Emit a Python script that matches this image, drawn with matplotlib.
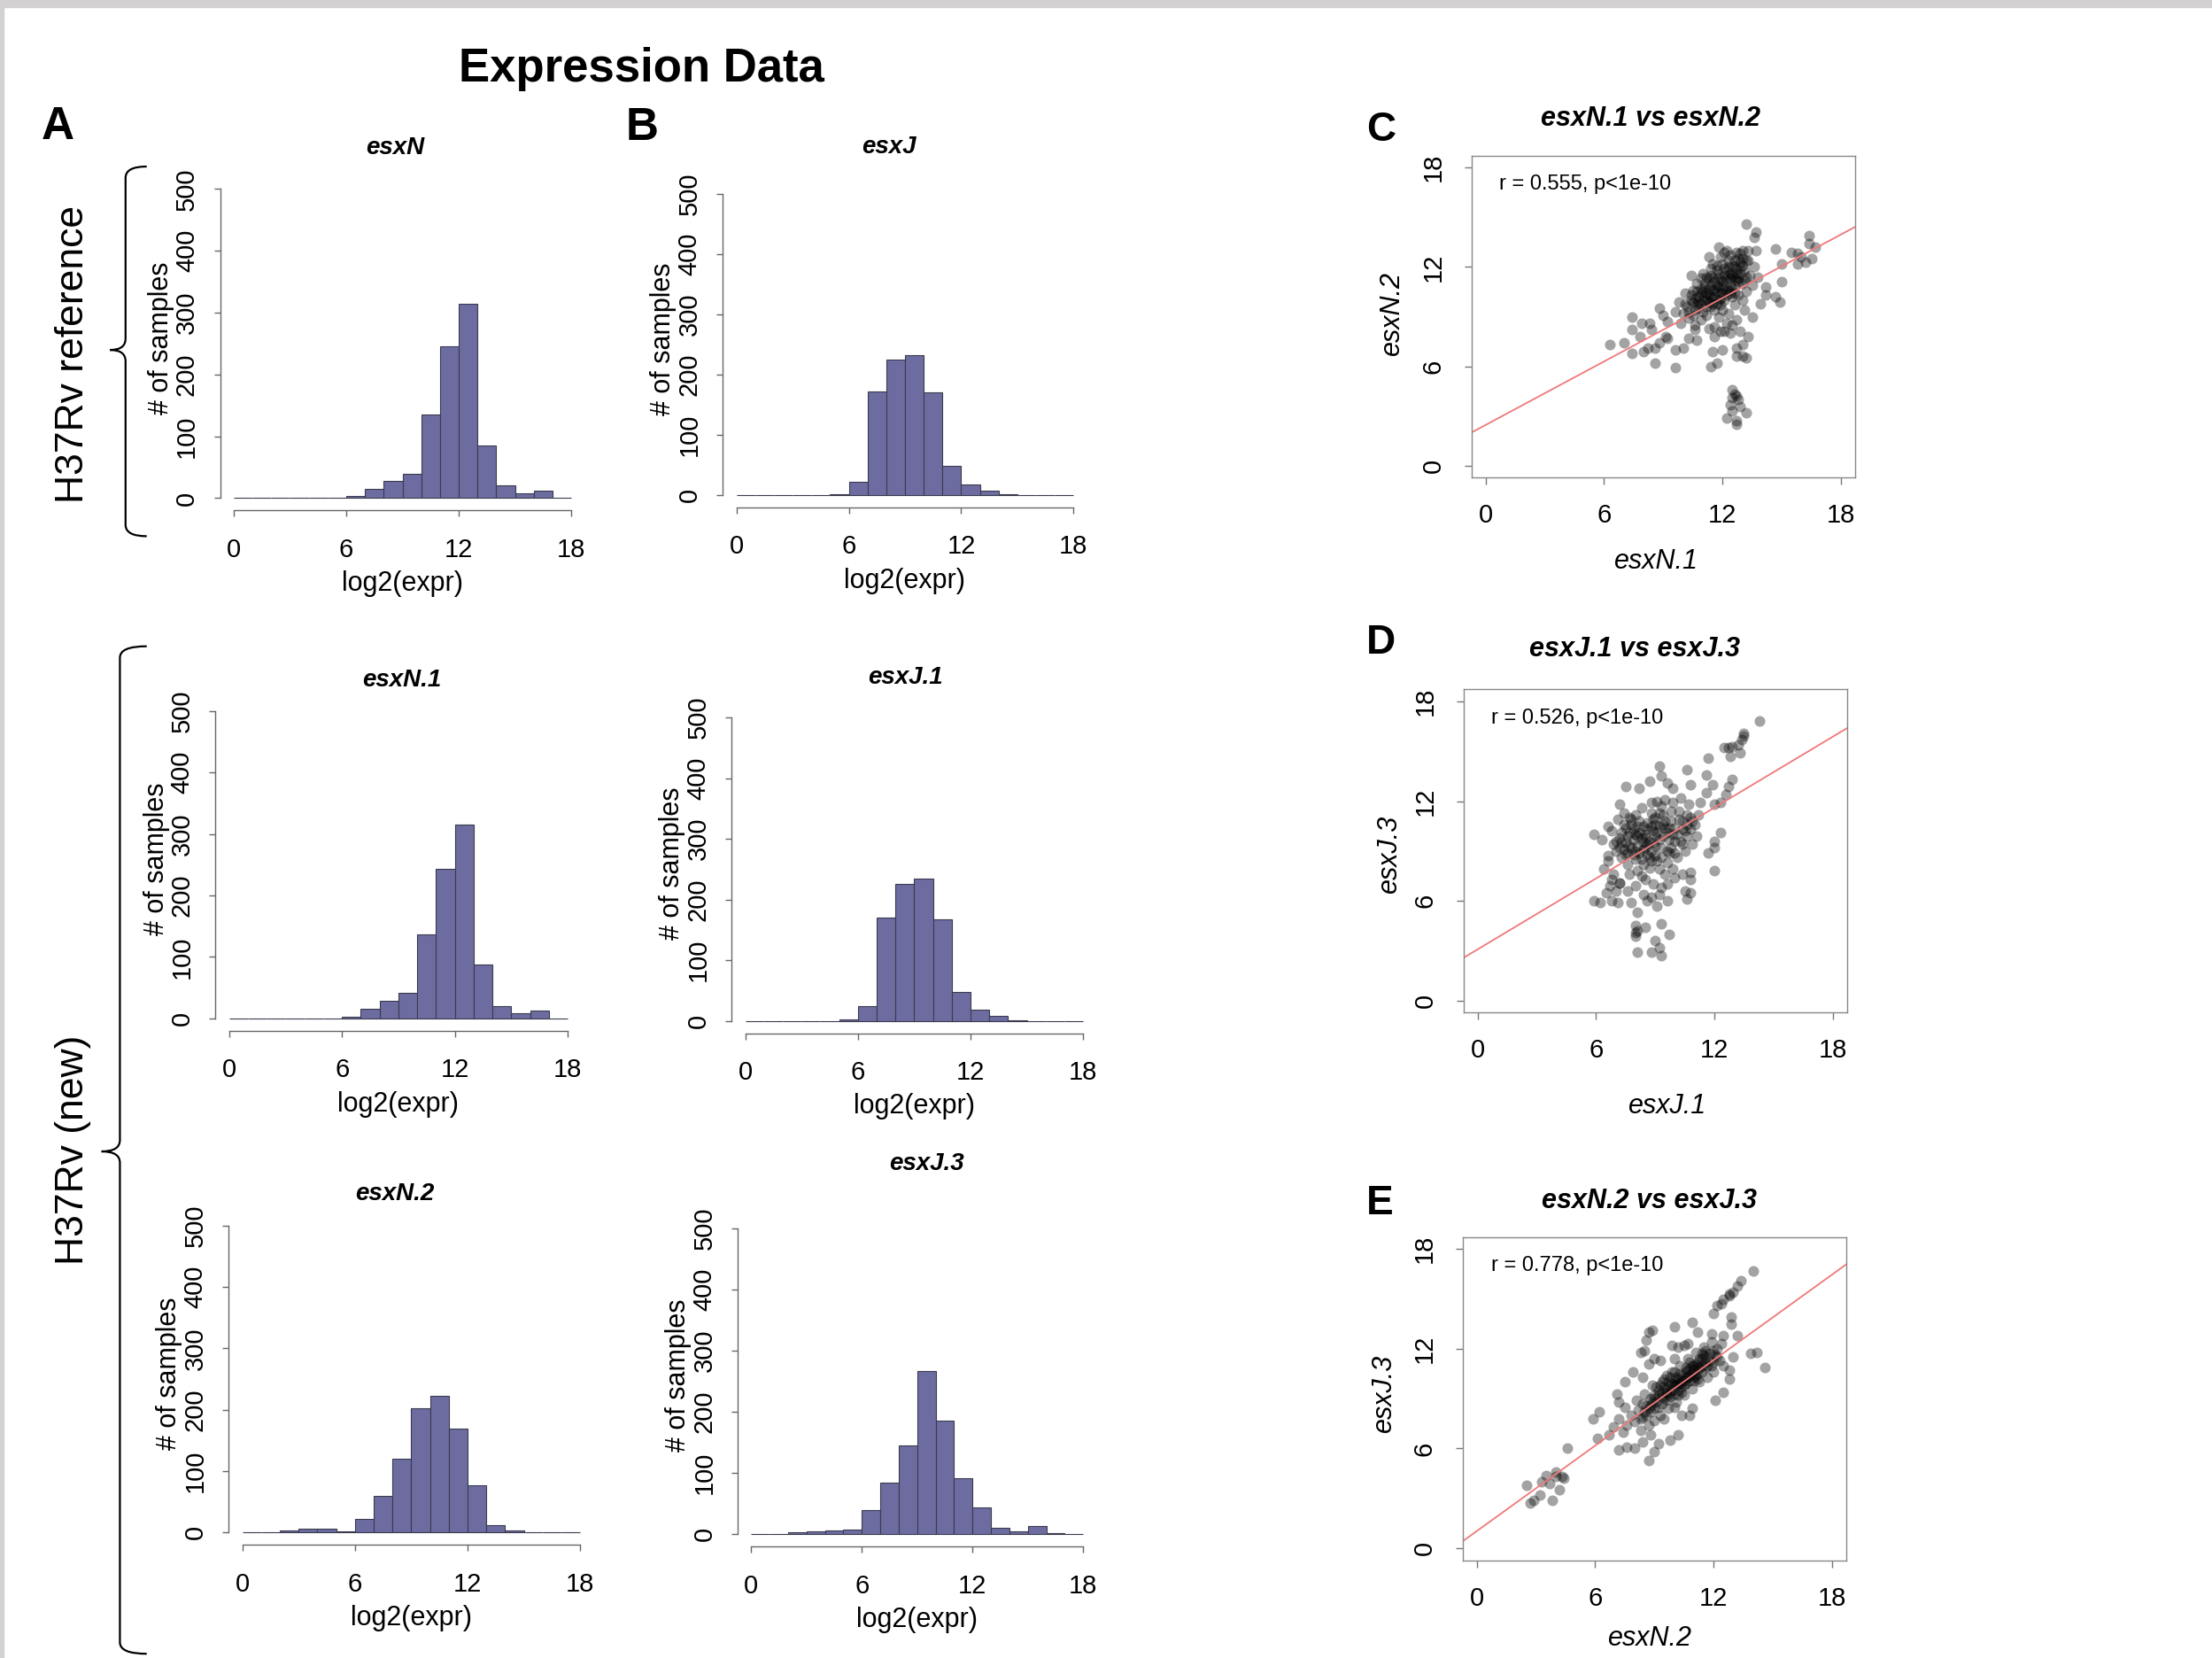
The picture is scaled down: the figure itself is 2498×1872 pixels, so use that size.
import matplotlib
matplotlib.use('Agg')
import matplotlib.pyplot as plt
from matplotlib.path import Path
from matplotlib.patches import PathPatch
from matplotlib.transforms import Affine2D
import numpy as np

plt.rcParams['font.family'] = 'Liberation Sans'

# ---- data ----
bins = np.arange(0, 18)          # left edges, width 1, 0..18

esxN   = [0, 0, 0, 0, 0, 0, 3, 15, 28, 40, 135, 245, 315, 85, 20, 8, 12, 0]
esxJ   = [0, 0, 0, 0, 0, 2, 22, 172, 225, 233, 170, 48, 18, 8, 1, 0, 0, 0]
esxN_1 = [0, 0, 0, 0, 0, 0, 3, 15, 28, 42, 137, 243, 315, 87, 20, 8, 12, 0]
esxJ_1 = [0, 0, 0, 0, 0, 2, 25, 170, 226, 234, 167, 48, 19, 9, 1, 0, 0, 0]
esxN_2 = [0, 0, 3, 6, 6, 2, 22, 60, 120, 203, 222, 170, 77, 12, 3, 0, 0, 0]
esxJ_3 = [0, 0, 3, 5, 6, 8, 39, 84, 145, 267, 186, 91, 43, 10, 5, 13, 2, 0]

hist_titles = ['esxN', 'esxJ', 'esxN.1', 'esxJ.1', 'esxN.2', 'esxJ.3']
hist_counts = [esxN, esxJ, esxN_1, esxJ_1, esxN_2, esxJ_3]

# scatter C: esxN.1 (x) vs esxN.2 (y)
pts_C = [(13.2,14.6),(13.7,14.1),(13.6,13.8),(16.4,13.9),(16.7,13.2),(16.4,13.4),(15.8,12.8),(16.0,12.6),
         (15.5,12.9),(16.5,12.5),(15.8,12.2),(16.2,12.3),(14.7,13.1),(15.0,12.2),(15.0,11.1),(14.7,10.2),
         (14.9,9.9),(14.2,10.3),(13.9,9.8),(13.5,9.0),(14.2,10.8),(11.8,13.2),(12.2,13.0),(12.7,12.9),
         (13.0,13.0),(13.7,13.0),(13.2,12.4),
         (6.3,7.3),(7.0,7.4),(7.4,9.0),(7.4,6.8),(7.9,8.6),(8.0,6.9),(8.2,7.1),(8.6,7.1),(8.6,6.2),(8.8,9.5),
         (9.0,9.1),(9.2,8.7),(9.2,7.7),(9.6,7.0),(9.6,5.9),(10.0,7.1),(8.3,8.6),(8.4,8.2),(7.4,8.2),(7.8,7.8),
         (9.1,7.8),(8.8,7.4),
         (11.5,6.9),(11.7,6.2),(11.4,6.0),(12.0,7.0),(12.7,7.1),(13.0,7.3),(13.0,6.6),(13.2,6.5),(12.7,6.6),
         (13.3,7.8),(12.9,8.1),(12.5,8.5),(12.1,8.1),(11.6,7.8),(11.3,8.3),(10.7,7.6),(10.3,7.7),(10.6,8.2),
         (12.5,4.6),(12.7,4.2),(12.5,4.1),(12.8,4.0),(12.4,3.7),(12.9,3.6),(12.5,3.3),(13.2,3.2),(12.2,2.9),
         (12.7,2.7),(12.7,2.5),(12.6,4.3),
         (10.2,9.6),(10.4,10.0),(10.6,9.4),(10.8,10.2),(10.5,10.6),(10.9,9.8),(11.0,10.5),(11.2,10.0),(11.1,11.0),
         (11.3,10.7),(11.4,9.6),(11.5,11.3),(11.6,10.2),(11.7,10.9),(11.8,11.6),(11.9,10.4),(12.0,11.1),(12.1,10.0),
         (12.2,11.8),(12.3,10.6),(12.4,11.3),(12.5,12.1),(12.6,10.9),(12.7,11.6),(12.8,10.3),(12.9,12.3),(13.0,11.0),
         (13.1,11.8),(13.2,10.5),(13.3,12.4),(12.0,9.4),(11.8,9.0),(12.3,9.2),(12.6,9.7),(11.2,9.1),(10.9,8.8),
         (10.3,8.9),(10.0,9.2),(9.8,9.9),(9.6,9.3),(10.1,10.4),(10.7,11.0),(11.0,11.6),(11.5,12.2),(11.9,12.6),
         (12.4,12.7),(12.9,12.8),(13.4,11.5),(13.6,12.0),(13.5,10.9),(13.8,11.4),(12.2,8.6),(11.6,8.4),(12.7,8.8),
         (13.1,9.4),(13.0,10.0),(11.4,11.9),(10.6,8.5),(11.9,8.1),(12.4,8.0),(9.9,8.6),(10.4,11.5),(11.3,12.6),
         (12.1,12.9),(12.8,12.5),(13.3,13.0),(12.5,11.5),(12.0,10.7),(11.7,10.5),(11.3,10.3),(10.8,9.9),(12.2,11.2),
         (12.6,10.4),(11.5,9.8),(11.1,10.8),(12.9,11.6),(10.7,10.5),(11.8,10.0),(12.4,10.9),(12.1,11.5),(11.6,11.1),
         (11.2,9.6),(10.5,9.9),(13.0,12.1),(12.7,11.2),(11.9,9.7),(12.3,12.0),(11.4,10.9),(10.9,10.4),(11.7,11.8),
         (10.3,9.3),(10.6,10.1),(10.9,10.7),(11.2,10.4),(11.5,10.6),(11.8,10.8),(12.1,10.9),(12.4,11.6),(12.7,11.9),
         (11.0,9.3),(11.3,9.9),(11.6,9.4),(11.9,11.2),(12.2,10.3),(12.5,10.2),(12.8,11.3),(13.1,11.2),(10.8,9.5),
         (11.1,10.2),(11.4,11.5),(11.7,12.1),(12.0,12.2),(12.3,11.5),(12.6,12.4),(12.9,11.9),(10.4,10.3),(10.7,9.7),
         (11.0,10.0),(11.3,11.3),(11.6,10.7),(11.9,10.1),(12.2,10.6),(12.5,10.7),(12.8,11.1),(13.2,11.4),(10.1,9.8),
         (10.5,9.1),(11.8,11.4),(12.1,11.9),(12.4,10.4),(11.5,10.1),(12.0,10.4),(11.2,11.4),(12.6,11.4),(10.9,11.3),
         (12.3,12.4),(11.4,10.2),(11.7,9.8),(12.6,12.0),(13.0,12.5)]

# scatter D: esxJ.1 (x) vs esxJ.3 (y)
pts_D = [(14.3,16.8),(13.5,16.1),(13.4,15.7),(13.2,15.4),(12.9,15.3),(12.7,15.2),(12.5,15.2),(13.3,14.9),
         (12.8,14.7),(13.5,15.9),(11.7,14.6),(11.6,13.6),(11.9,13.0),(11.6,12.5),(12.7,12.9),(12.9,13.3),
         (12.6,12.4),(12.3,11.9),(12.0,11.8),(12.3,10.1),(12.0,9.6),(12.0,9.2),(11.7,8.9),(12.0,7.8),(11.3,11.9),
         (9.2,14.1),(9.3,13.5),(10.6,13.9),(10.8,13.0),(7.5,12.9),(7.2,11.8),(8.7,13.2),(9.6,13.1),(8.2,12.8),
         (9.9,12.8),
         (5.9,10.0),(6.6,10.5),(6.3,9.7),(6.6,8.7),(6.4,7.9),(5.9,6.0),(6.2,5.9),(6.8,6.0),(7.1,5.9),(6.5,6.5),
         (6.7,6.9),(7.0,6.6),(6.8,7.3),(7.2,7.1),
         (7.8,5.9),(8.1,5.3),(8.0,4.5),(8.0,4.1),(8.0,3.9),(8.5,4.4),(9.3,4.6),(9.7,4.0),(9.0,3.6),(9.2,3.2),
         (8.1,2.9),(8.8,2.9),(9.3,2.7),(8.1,4.2),
         (10.4,7.6),(10.8,7.7),(10.8,7.3),(10.5,6.6),(10.8,6.5),(10.6,6.1),(9.6,6.0),(9.1,5.7),(8.6,6.0),
         (7.2,9.8),(7.5,10.4),(7.8,9.2),(8.0,10.0),(8.2,10.8),(8.4,9.5),(8.6,10.3),(8.8,9.0),(9.0,10.6),(9.2,9.7),
         (9.4,11.2),(9.6,10.1),(9.8,10.8),(10.0,9.6),(10.2,11.4),(10.4,10.3),(10.6,9.9),(10.8,11.0),(7.0,9.0),
         (7.3,8.6),(7.6,8.2),(7.9,8.8),(8.1,7.8),(8.3,8.5),(8.5,7.3),(8.7,8.0),(8.9,7.0),(9.1,8.4),(9.3,6.8),
         (9.5,7.6),(9.7,8.9),(9.9,7.9),(6.8,10.2),(7.1,10.9),(7.4,11.3),(7.7,11.0),(8.3,11.6),(8.8,11.3),(9.1,12.0),
         (9.5,12.1),(9.9,11.9),(10.3,12.2),(10.7,11.8),(11.0,10.6),(11.2,11.2),(10.9,9.4),(10.5,9.0),(10.1,8.6),
         (6.6,8.4),(6.9,7.6),(7.2,7.1),(7.6,6.6),(8.0,6.9),(8.4,6.4),(8.8,6.2),(9.2,6.4),(9.6,7.0),(10.0,7.4),
         (7.9,9.7),(8.5,10.0),(8.1,9.3),(8.9,10.2),(9.3,9.2),(9.0,8.7),(8.6,8.8),(7.5,9.5),(7.8,10.6),(8.4,10.5),
         (9.7,10.4),(10.1,10.0),(10.4,10.8),(9.4,9.9),(8.7,9.6),(8.2,8.9),(7.4,9.1),(7.7,7.6),(8.3,7.5),(9.8,9.2),
         (9.0,11.0),(8.0,11.2),(6.9,9.4),(7.3,10.1),(10.6,10.6),(11.1,9.9),(9.2,10.5),(8.5,9.2),(7.6,8.9),(8.9,9.5),
         (7.6,9.9),(7.9,10.3),(8.2,10.1),(8.5,9.8),(8.8,10.5),(9.1,10.1),(9.4,10.6),(9.7,9.7),(10.0,10.4),(10.3,9.6),
         (7.3,9.5),(7.7,9.3),(8.0,9.0),(8.3,9.8),(8.6,10.7),(8.9,10.9),(9.2,11.3),(9.5,10.8),(9.8,11.4),(10.2,10.9),
         (7.4,10.6),(7.8,10.9),(8.1,10.5),(8.4,9.1),(8.7,8.6),(9.0,9.3),(9.3,8.6),(9.6,9.0),(9.9,10.0),(10.5,10.2),
         (7.2,9.2),(7.5,8.8),(8.0,8.5),(8.4,8.2),(8.8,8.4),(9.2,7.9),(9.6,8.3),(10.0,8.9),(10.4,9.4),(10.8,10.3),
         (8.1,9.9),(8.6,9.4),(9.0,9.9),(9.5,10.4),(9.3,11.7),(8.8,11.9),(10.6,11.2),(10.9,10.8),(7.0,9.6),(7.7,10.1)]

# scatter E: esxN.2 (x) vs esxJ.3 (y)
pts_E = [(14.0,16.7),(13.4,16.1),(13.2,15.8),(13.0,15.4),(12.8,15.2),(12.5,15.0),(12.4,14.7),(12.2,14.6),
         (12.8,15.3),(12.0,14.1),
         (13.9,11.7),(14.2,11.8),(14.6,10.9),(12.9,13.9),(12.9,13.5),(13.2,12.8),(13.0,11.5),(12.8,10.7),
         (12.8,10.2),(12.5,9.4),(12.1,8.9),(10.9,13.6),(11.2,13.0),(10.0,13.3),(11.9,12.9),(12.5,12.8),
         (8.7,13.0),(8.9,13.1),(8.6,12.5),(8.3,11.8),(8.5,11.9),(9.0,11.4),(9.3,11.3),(8.7,11.1),(9.9,12.2),
         (10.2,12.1),(10.5,12.2),(10.7,12.3),(10.0,11.4),(7.9,10.6),(7.5,10.0),(8.4,10.3),
         (5.9,7.8),(6.2,8.2),(6.1,6.6),(4.6,6.0),(6.7,6.8),(7.1,9.3),(7.2,8.8),(6.9,7.3),(7.2,5.9),(7.6,6.1),
         (8.0,6.0),(8.4,6.4),(8.7,5.3),(9.0,5.8),(9.2,6.3),(9.8,6.5),(10.2,6.8),(9.5,7.8),(10.8,8.0),(10.9,8.4),
         (10.4,8.0),(8.8,6.8),
         (4.0,4.6),(4.3,4.3),(3.5,4.4),(3.3,4.0),(3.7,3.9),(4.2,3.5),(2.5,3.8),(3.2,3.2),(2.9,2.9),(2.7,2.7),
         (3.8,2.9),(4.4,4.2),(4.0,4.3),
         (8.0,7.6),(8.2,8.3),(8.4,7.9),(8.6,8.6),(8.8,8.2),(9.0,9.0),(9.2,8.5),(9.4,9.4),(9.6,8.9),(9.8,9.8),
         (10.0,9.3),(10.2,10.2),(10.4,9.7),(10.6,10.6),(10.8,10.1),(11.0,11.0),(11.2,10.5),(11.4,11.4),(11.6,10.9),
         (11.8,11.7),(12.0,11.2),(12.2,12.0),(9.1,9.7),(9.5,10.2),(9.9,10.6),(10.3,11.0),(10.7,11.4),(11.1,11.8),
         (11.5,12.1),(9.3,8.0),(9.7,8.4),(10.1,8.8),(10.5,9.2),(10.9,9.6),(11.3,10.0),(11.7,10.3),(7.6,7.4),
         (7.8,8.0),(7.4,7.0),(8.3,7.1),(8.7,7.4),(9.0,7.7),(7.2,7.8),(7.5,8.5),(8.1,8.9),(8.5,9.3),(8.9,9.8),
         (10.0,10.0),(10.2,9.5),(9.6,9.4),(9.8,9.1),(10.4,10.4),(10.6,9.9),(10.8,10.8),(11.0,10.3),(11.2,11.2),
         (9.4,8.7),(9.2,9.2),(10.1,9.8),(9.7,10.0),(10.5,10.1),(10.9,10.5),(11.3,10.8),(11.6,11.5),(12.1,11.6),
         (12.3,11.3),(12.4,12.3),(11.9,12.4),(12.5,11.0),(12.0,10.6),(8.6,8.0),(8.4,8.7),(9.9,9.5),(10.3,9.9),
         (10.7,10.3),(9.5,9.7),(11.1,11.1),(11.4,10.6),(8.8,9.0),(10.0,8.5),
         (9.0,9.2),(9.2,9.5),(9.4,9.1),(9.6,9.6),(9.8,9.4),(10.0,9.8),(10.2,9.9),(10.4,10.1),(10.6,10.3),(10.8,10.4),
         (11.0,10.7),(11.2,10.9),(11.4,11.0),(11.6,11.2),(11.8,11.3),(9.3,9.8),(9.7,9.2),(10.1,10.3),(10.5,9.8),
         (10.9,11.0),(11.3,11.4),(11.7,11.0),(12.0,11.9),(8.7,8.4),(8.9,8.8),(9.1,8.8),(9.5,9.0),(9.9,9.9),
         (10.3,10.5),(10.7,10.7),(11.1,10.4),(11.5,11.6),(11.9,11.0),(8.5,8.2),(8.3,7.8),(9.8,10.3),(10.2,9.2),
         (10.6,10.9),(11.0,10.1),(11.4,11.7),(8.8,8.6),(9.6,10.4),(10.4,9.4),(10.8,11.2),(11.2,10.2),(12.2,11.5),
         (9.0,8.4),(9.4,10.0),(10.0,10.6),(11.6,11.9)]

scatter_titles = ['esxN.1 vs esxN.2', 'esxJ.1 vs esxJ.3', 'esxN.2 vs esxJ.3']
scatter_xlabels = ['esxN.1', 'esxJ.1', 'esxN.2']
scatter_ylabels = ['esxN.2', 'esxJ.3', 'esxJ.3']
scatter_stats = ['r = 0.555, p<1e-10', 'r = 0.526, p<1e-10', 'r = 0.778, p<1e-10']
fit_intercepts = [2.46, 3.09, 1.04]
fit_slopes = [0.639, 0.71, 0.856]

# ---- layout (pixel positions on a 1568x1175 copy of the figure) ----
W, H = 1568.0, 1175.0

def fx(x):
    return x / W

def fy(y):
    return 1 - y / H

def rect(l, t, r, b):
    return [fx(l), fy(b), (r - l) / W, (b - t) / H]

fig = plt.figure(figsize=(24.98, 18.72), dpi=100)

# screenshot frame bits
fig.patches.append(plt.Rectangle((0, fy(5)), 1, 5 / H, transform=fig.transFigure,
                                 color='#d3d1d1', zorder=0))
fig.patches.append(plt.Rectangle((0, 0), 2.5 / W, 1, transform=fig.transFigure,
                                 color='#d3d1d1', zorder=0))

hist_boxes = [(156.0, 125.2, 414.6, 361.8), (512.4, 128.8, 770.6, 359.5),
              (152.8, 495.1, 412.0, 730.4), (518.7, 499.8, 777.4, 732.2),
              (162.2, 860.0, 420.8, 1094.7), (523.1, 861.7, 777.2, 1095.9)]
hist_title_pos = [(280, 105), (630, 104), (285, 482), (642, 480), (280, 846), (657, 825)]

fill = '#6c6ca1'
for counts, title, (l, t, r, b), (tx, ty) in zip(hist_counts, hist_titles, hist_boxes, hist_title_pos):
    ax = fig.add_axes(rect(l, t, r, b))
    ax.bar(bins, counts, width=1, align='edge', color=fill, edgecolor='#3a3a4e', linewidth=0.8)
    ax.set_xlim(-0.72, 18.72)
    ax.set_ylim(-20, 520)
    for s in ['top', 'right']:
        ax.spines[s].set_visible(False)
    for s in ['left', 'bottom']:
        ax.spines[s].set_color('#666666')
        ax.spines[s].set_linewidth(1.0)
    ax.spines['left'].set_bounds(0, 500)
    ax.spines['bottom'].set_bounds(0, 18)
    ax.set_xticks([0, 6, 12, 18])
    ax.set_yticks([0, 100, 200, 300, 400, 500])
    ax.tick_params(axis='both', direction='out', length=5, width=1, color='#666666', labelsize=21)
    ax.tick_params(axis='x', pad=17)
    ax.tick_params(axis='y', labelrotation=90, pad=12)
    for lab in ax.get_yticklabels():
        lab.set_va('center')
    ax.patch.set_alpha(0)
    fig.text(fx(tx), fy(ty), title, fontsize=20, fontweight='bold', fontstyle='italic',
             ha='center', va='center')
    fig.text(fx((l + r) / 2), fy(b + 52), 'log2(expr)', fontsize=22, ha='center', va='center')
    fig.text(fx(l - 42), fy((t + b) / 2 - 4), '# of samples', fontsize=22, rotation=90,
             ha='center', va='center')

scatter_boxes = [(1043.0, 110.3, 1315.1, 338.5), (1037.5, 488.6, 1309.1, 717.6),
                 (1036.9, 876.7, 1308.5, 1105.7)]
scatter_title_pos = [(1170, 84), (1159, 460), (1169, 851)]
scatter_xlabel_pos = [(1174, 398), (1182, 784), (1170, 1161)]
scatter_ylabel_pos = [(986.5, 222), (985, 605), (981, 987)]
scatter_data = [pts_C, pts_D, pts_E]

for i, pts in enumerate(scatter_data):
    l, t, r, b = scatter_boxes[i]
    ax = fig.add_axes(rect(l, t, r, b))
    arr = np.array(pts)
    ax.scatter(arr[:, 0], arr[:, 1], s=76, color='black', alpha=0.36, linewidths=0)
    ax.axline((0, fit_intercepts[i]), slope=fit_slopes[i], color='#f07878', linewidth=1.3)
    ax.set_xlim(-0.72, 18.72)
    ax.set_ylim(-0.72, 18.72)
    for s in ax.spines.values():
        s.set_color('#888888')
        s.set_linewidth(1.0)
    ax.set_xticks([0, 6, 12, 18])
    ax.set_yticks([0, 6, 12, 18])
    ax.tick_params(axis='both', direction='out', length=6, width=1, color='#777777', labelsize=21)
    ax.tick_params(axis='x', pad=15)
    ax.tick_params(axis='y', labelrotation=90, pad=15)
    for lab in ax.get_yticklabels():
        lab.set_va('center')
    ax.text(0.7, 17.0, scatter_stats[i], fontsize=17, ha='left', va='center')
    tx, ty = scatter_title_pos[i]
    fig.text(fx(tx), fy(ty), scatter_titles[i], fontsize=22, fontweight='bold',
             fontstyle='italic', ha='center', va='center')
    tx, ty = scatter_xlabel_pos[i]
    fig.text(fx(tx), fy(ty), scatter_xlabels[i], fontsize=22, fontstyle='italic',
             ha='center', va='center')
    tx, ty = scatter_ylabel_pos[i]
    fig.text(fx(tx), fy(ty), scatter_ylabels[i], fontsize=22, fontstyle='italic',
             rotation=90, ha='center', va='center')

# titles and panel letters
fig.text(fx(455), fy(49), 'Expression Data', fontsize=38, fontweight='bold', ha='center', va='center')
for letter, (x, y), size in [('A', (41, 90), 37), ('B', (455, 91), 37), ('C', (979, 92), 33),
                             ('D', (979, 456), 33), ('E', (978, 853), 33)]:
    fig.text(fx(x), fy(y), letter, fontsize=size, fontweight='bold', ha='center', va='center')

fig.text(fx(52), fy(251), 'H37Rv reference', fontsize=32, rotation=90, ha='center', va='center')
fig.text(fx(52), fy(815), 'H37Rv (new)', fontsize=32, rotation=90, ha='center', va='center')

# curly braces
to_fig = Affine2D().scale(1 / W, -1 / H).translate(0, 1) + fig.transFigure


def brace(xl, xe, xt, ytop, ytip, ybot, rr=8):
    verts = [(xe, ytop), (xl, ytop), (xl, ytop + rr), (xl, ytip - rr), (xl, ytip), (xt, ytip),
             (xl, ytip), (xl, ytip + rr), (xl, ybot - rr), (xl, ybot), (xe, ybot)]
    codes = [Path.MOVETO, Path.CURVE3, Path.CURVE3, Path.LINETO, Path.CURVE3, Path.CURVE3,
             Path.CURVE3, Path.CURVE3, Path.LINETO, Path.CURVE3, Path.CURVE3]
    patch = PathPatch(Path(verts, codes), facecolor='none', edgecolor='black',
                      linewidth=1.6, transform=to_fig)
    fig.patches.append(patch)


brace(89, 104, 78, 118, 248, 380)
brace(85, 104, 72, 458, 816, 1172)

fig.savefig('out.png', dpi=100)
